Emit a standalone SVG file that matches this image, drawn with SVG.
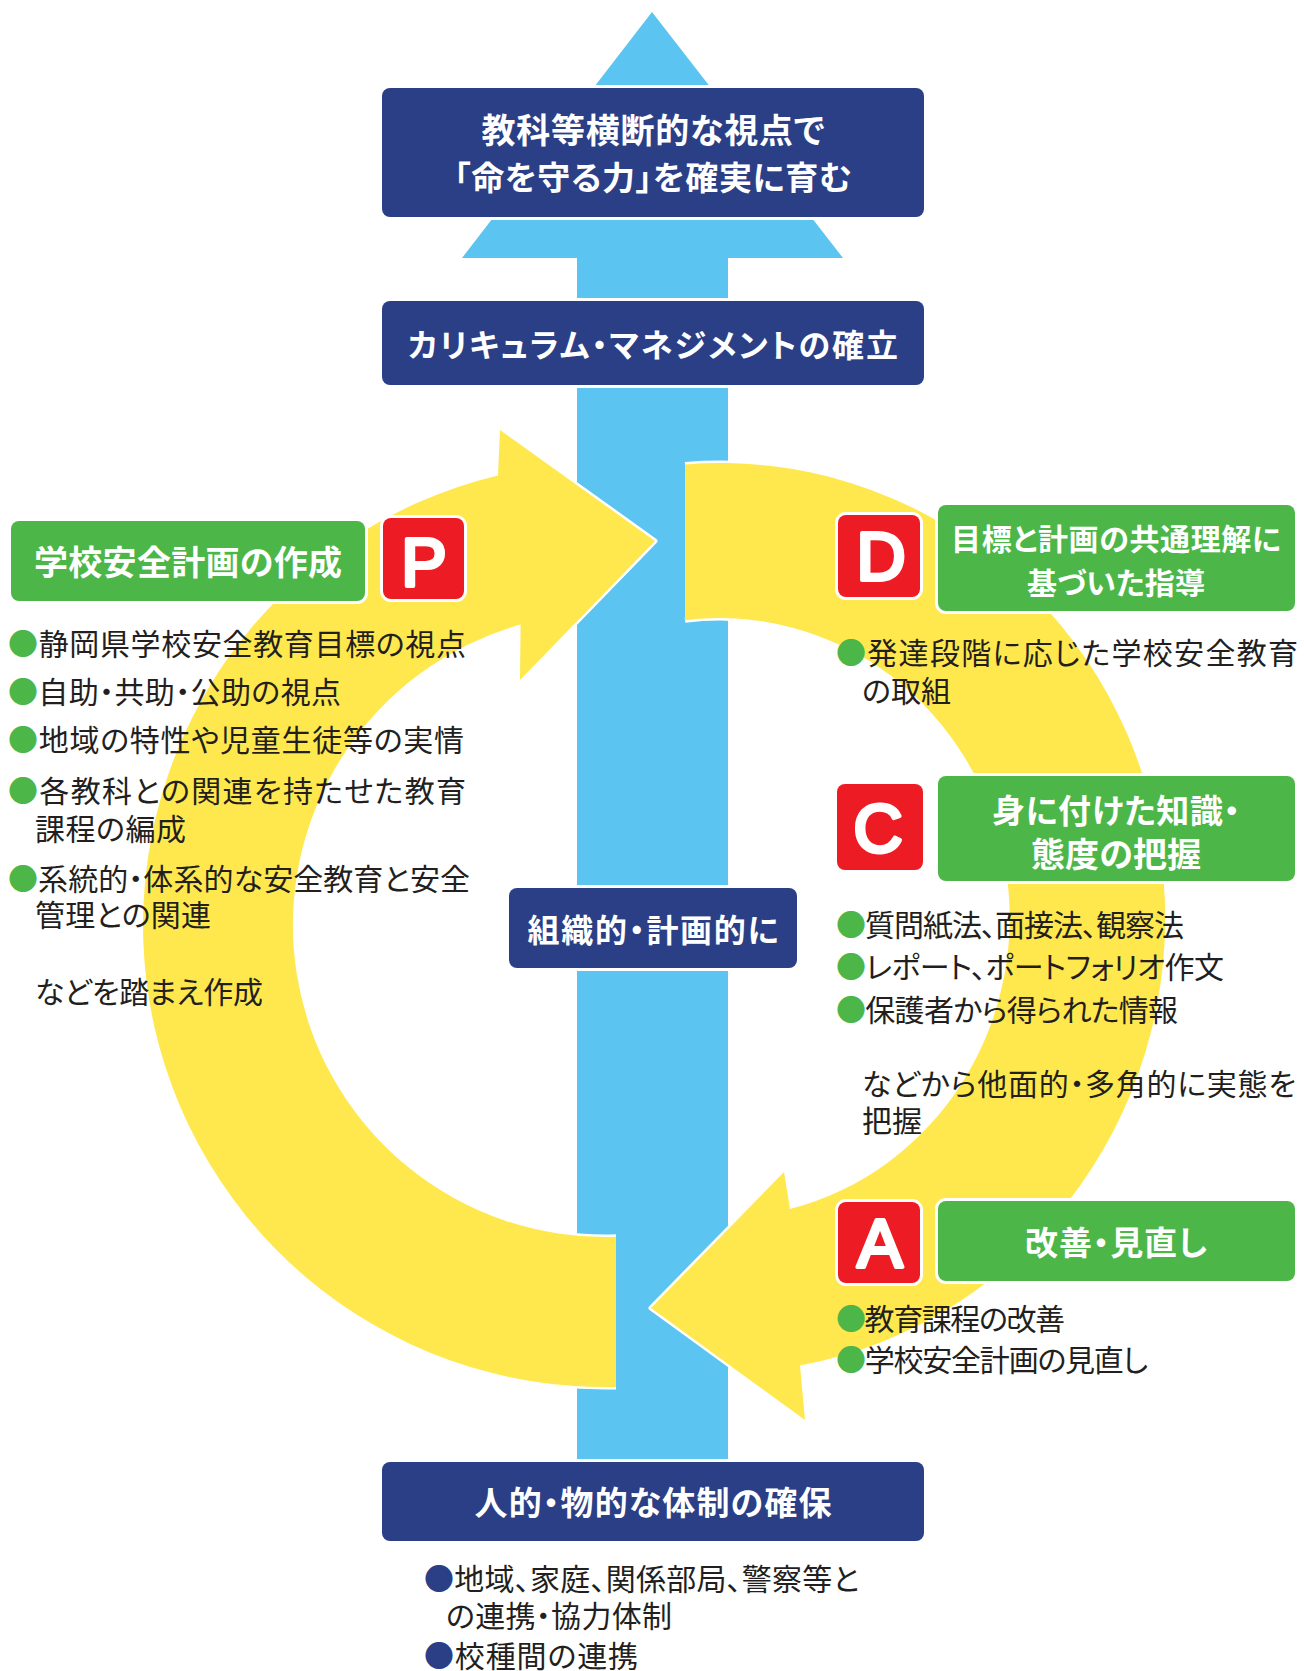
<svg xmlns="http://www.w3.org/2000/svg" width="1304" height="1671" viewBox="0 0 1304 1671">
<style>
.navy{fill:#2B3F87;stroke:#fff;stroke-width:6;paint-order:stroke}
.green{fill:#4CB748;stroke:#fff;stroke-width:6;paint-order:stroke}
.red{fill:#ED1C24;stroke:#fff;stroke-width:6;paint-order:stroke}
.hd{font-family:"Noto Sans CJK JP","Noto Sans",sans-serif;font-weight:700;fill:#fff;text-anchor:middle;dominant-baseline:central;font-feature-settings:"palt"}
.lt{font-family:"Noto Sans CJK JP",sans-serif;font-weight:400;fill:#231F20;font-size:30px;dominant-baseline:central;font-feature-settings:"palt"}
.gb{fill:#4CB748}
.nb{fill:#2B3F87}
.letter{font-family:"Liberation Sans",Arial,sans-serif;font-weight:400;fill:#fff;stroke:#fff;stroke-width:4;stroke-linejoin:round;stroke-linecap:round;text-anchor:middle;font-size:68px}
.yel{fill:#FFE84D}
.yout{fill:none;stroke:#fff;stroke-width:5;stroke-linejoin:round}
.sky{fill:#5BC4F0}
</style>

<g id="connectors">
  <path class="sky" d="M652,12 L843,258 L728,258 L728,1463 L577,1463 L577,258 L462,258 Z"/>
  <path class="yout" d="M616,1386.9 A462,462 0 0 1 498,475.6 L500,430 L655,541 L520,680 L520.6,624.6 A312,312 0 0 0 616,1236.8"/>
  <path class="yel" d="M616,1386.9 A462,462 0 0 1 498,475.6 L500,430 L655,541 L520,680 L520.6,624.6 A312,312 0 0 0 616,1236.8 Z"/>
  <path class="yout" d="M685,464.4 A445,455 0 0 1 800,1365.6 L805,1420 L651,1308 L784,1172 L790,1209.1 A290,300 0 0 0 685,620.2"/>
  <path class="yel" d="M685,464.4 A445,455 0 0 1 800,1365.6 L805,1420 L651,1308 L784,1172 L790,1209.1 A290,300 0 0 0 685,620.2 Z"/>
</g>

<g id="goal">
  <rect class="navy" x="382" y="88" width="542" height="129" rx="8"/>
  <text class="hd" x="653" y="128" font-size="34" textLength="343">教科等横断的な視点で</text>
  <text class="hd" x="653" y="176" font-size="33" textLength="398">「命を守る力」を確実に育む</text>
</g>

<g id="curriculum">
  <rect class="navy" x="382" y="301" width="542" height="84" rx="8"/>
  <text class="hd" x="653" y="343" font-size="32" textLength="490">カリキュラム・マネジメントの確立</text>
</g>

<g id="organized">
  <rect class="navy" x="509" y="888" width="288" height="80" rx="8"/>
  <text class="hd" x="653" y="928" font-size="32" textLength="251">組織的・計画的に</text>
</g>

<g id="resources">
  <rect class="navy" x="382" y="1462" width="542" height="79" rx="8"/>
  <text class="hd" x="653" y="1501" font-size="33" textLength="357">人的・物的な体制の確保</text>
  <text class="lt" x="424" y="1577" textLength="435"><tspan class="nb">●</tspan>地域、家庭、関係部局、警察等と</text>
  <text class="lt" x="446" y="1614" textLength="226">の連携・協力体制</text>
  <text class="lt" x="424" y="1654" textLength="214"><tspan class="nb">●</tspan>校種間の連携</text>
</g>

<g id="plan">
  <rect class="green" x="11" y="521" width="354" height="80" rx="8"/>
  <text class="hd" x="188" y="560" font-size="34" textLength="308">学校安全計画の作成</text>
  <rect class="red" x="383" y="518" width="81" height="81" rx="8"/>
  <text class="letter" x="424" y="586">P</text>
  <text class="lt" x="8" y="642" textLength="458"><tspan class="gb">●</tspan>静岡県学校安全教育目標の視点</text>
  <text class="lt" x="8" y="690" textLength="333"><tspan class="gb">●</tspan>自助・共助・公助の視点</text>
  <text class="lt" x="8" y="738" textLength="456"><tspan class="gb">●</tspan>地域の特性や児童生徒等の実情</text>
  <text class="lt" x="8" y="789" textLength="458"><tspan class="gb">●</tspan>各教科との関連を持たせた教育</text>
  <text class="lt" x="35" y="827" textLength="151">課程の編成</text>
  <text class="lt" x="8" y="877" textLength="462"><tspan class="gb">●</tspan>系統的・体系的な安全教育と安全</text>
  <text class="lt" x="35" y="913" textLength="176">管理との関連</text>
  <text class="lt" x="35" y="990" textLength="228">などを踏まえ作成</text>
</g>

<g id="do">
  <rect class="red" x="838" y="515" width="82" height="82" rx="8"/>
  <text class="letter" x="881" y="580">D</text>
  <rect class="green" x="938" y="505" width="357" height="106" rx="8"/>
  <text class="hd" x="1116" y="537" font-size="30" textLength="330">目標と計画の共通理解に</text>
  <text class="hd" x="1116" y="581" font-size="30" textLength="178">基づいた指導</text>
  <text class="lt" x="836" y="651" textLength="462"><tspan class="gb">●</tspan>発達段階に応じた学校安全教育</text>
  <text class="lt" x="862" y="689" textLength="89">の取組</text>
</g>

<g id="check">
  <rect class="red" x="837" y="784" width="86" height="86" rx="8"/>
  <text class="letter" x="878" y="852">C</text>
  <rect class="green" x="938" y="776" width="357" height="105" rx="8"/>
  <text class="hd" x="1116" y="809" font-size="33" textLength="248">身に付けた知識・</text>
  <text class="hd" x="1116" y="852" font-size="34" textLength="170">態度の把握</text>
  <text class="lt" x="836" y="923" textLength="348"><tspan class="gb">●</tspan>質問紙法、面接法、観察法</text>
  <text class="lt" x="836" y="965" textLength="388"><tspan class="gb">●</tspan>レポート、ポートフォリオ作文</text>
  <text class="lt" x="836" y="1008" textLength="342"><tspan class="gb">●</tspan>保護者から得られた情報</text>
  <text class="lt" x="862" y="1082" textLength="434">などから他面的・多角的に実態を</text>
  <text class="lt" x="862" y="1119" textLength="60">把握</text>
</g>

<g id="act">
  <rect class="red" x="838" y="1202" width="82" height="81" rx="8"/>
  <text class="letter" x="880" y="1267">A</text>
  <rect class="green" x="938" y="1201" width="357" height="80" rx="8"/>
  <text class="hd" x="1116" y="1241" font-size="33" textLength="182">改善・見直し</text>
  <text class="lt" x="836" y="1317" textLength="229"><tspan class="gb">●</tspan>教育課程の改善</text>
  <text class="lt" x="836" y="1358" textLength="312"><tspan class="gb">●</tspan>学校安全計画の見直し</text>
</g>
</svg>
